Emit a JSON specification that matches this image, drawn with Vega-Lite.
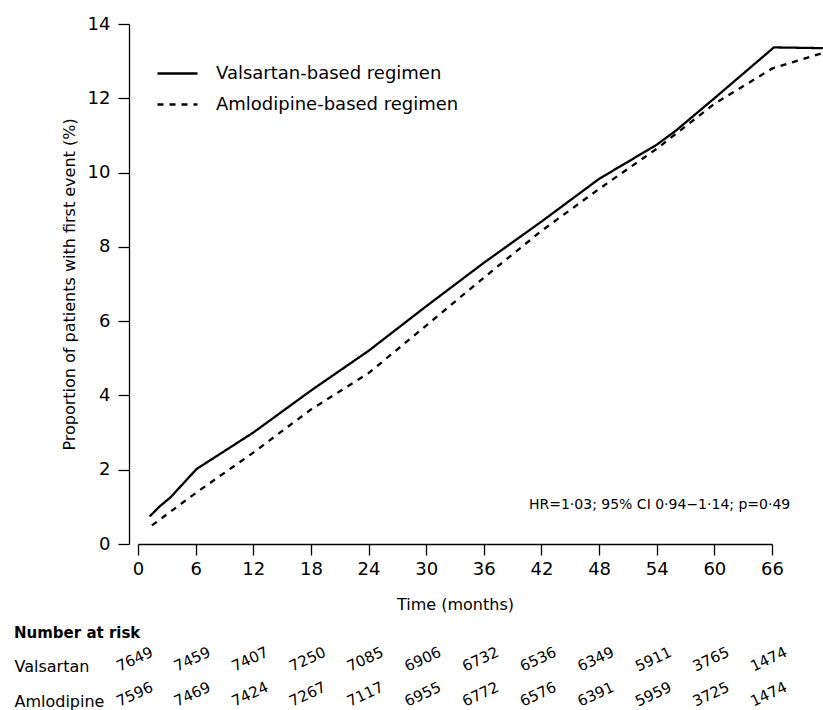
{
  "$schema": "https://vega.github.io/schema/vega-lite/v6.json",
  "padding": {"left": 14, "top": 15, "right": 0, "bottom": 0},
  "config": {
    "font": "DejaVu Sans",
    "view": {"stroke": null},
    "axis": {"domainColor": "black", "tickColor": "black", "labelColor": "black", "titleColor": "black", "grid": false, "titleFontWeight": "normal", "domainWidth": 1.3, "tickWidth": 1.3},
    "title": {"color": "black"}
  },
  "datasets": {
    "curves": [
      {"regimen": "Valsartan-based regimen", "month": 1.2, "pct": 0.74},
      {"regimen": "Valsartan-based regimen", "month": 2.25, "pct": 1.01},
      {"regimen": "Valsartan-based regimen", "month": 3.4, "pct": 1.26},
      {"regimen": "Valsartan-based regimen", "month": 6.1, "pct": 2.02},
      {"regimen": "Valsartan-based regimen", "month": 12, "pct": 3.0},
      {"regimen": "Valsartan-based regimen", "month": 18, "pct": 4.13},
      {"regimen": "Valsartan-based regimen", "month": 24, "pct": 5.2},
      {"regimen": "Valsartan-based regimen", "month": 30, "pct": 6.4},
      {"regimen": "Valsartan-based regimen", "month": 36, "pct": 7.57},
      {"regimen": "Valsartan-based regimen", "month": 42, "pct": 8.68},
      {"regimen": "Valsartan-based regimen", "month": 48, "pct": 9.83},
      {"regimen": "Valsartan-based regimen", "month": 54, "pct": 10.75},
      {"regimen": "Valsartan-based regimen", "month": 56, "pct": 11.13},
      {"regimen": "Valsartan-based regimen", "month": 60, "pct": 12.0},
      {"regimen": "Valsartan-based regimen", "month": 66.2, "pct": 13.37},
      {"regimen": "Valsartan-based regimen", "month": 71.3, "pct": 13.35},
      {"regimen": "Amlodipine-based regimen", "month": 1.45, "pct": 0.5},
      {"regimen": "Amlodipine-based regimen", "month": 6.1, "pct": 1.39},
      {"regimen": "Amlodipine-based regimen", "month": 12, "pct": 2.46},
      {"regimen": "Amlodipine-based regimen", "month": 18, "pct": 3.62},
      {"regimen": "Amlodipine-based regimen", "month": 24, "pct": 4.6},
      {"regimen": "Amlodipine-based regimen", "month": 30, "pct": 5.88},
      {"regimen": "Amlodipine-based regimen", "month": 36, "pct": 7.17},
      {"regimen": "Amlodipine-based regimen", "month": 42, "pct": 8.43},
      {"regimen": "Amlodipine-based regimen", "month": 48, "pct": 9.56},
      {"regimen": "Amlodipine-based regimen", "month": 54, "pct": 10.64},
      {"regimen": "Amlodipine-based regimen", "month": 60, "pct": 11.85},
      {"regimen": "Amlodipine-based regimen", "month": 66, "pct": 12.8},
      {"regimen": "Amlodipine-based regimen", "month": 71.3, "pct": 13.22}
    ],
    "risk": [
      {"arm": "Valsartan", "month": 0, "n": "7649"},
      {"arm": "Valsartan", "month": 6, "n": "7459"},
      {"arm": "Valsartan", "month": 12, "n": "7407"},
      {"arm": "Valsartan", "month": 18, "n": "7250"},
      {"arm": "Valsartan", "month": 24, "n": "7085"},
      {"arm": "Valsartan", "month": 30, "n": "6906"},
      {"arm": "Valsartan", "month": 36, "n": "6732"},
      {"arm": "Valsartan", "month": 42, "n": "6536"},
      {"arm": "Valsartan", "month": 48, "n": "6349"},
      {"arm": "Valsartan", "month": 54, "n": "5911"},
      {"arm": "Valsartan", "month": 60, "n": "3765"},
      {"arm": "Valsartan", "month": 66, "n": "1474"},
      {"arm": "Amlodipine", "month": 0, "n": "7596"},
      {"arm": "Amlodipine", "month": 6, "n": "7469"},
      {"arm": "Amlodipine", "month": 12, "n": "7424"},
      {"arm": "Amlodipine", "month": 18, "n": "7267"},
      {"arm": "Amlodipine", "month": 24, "n": "7117"},
      {"arm": "Amlodipine", "month": 30, "n": "6955"},
      {"arm": "Amlodipine", "month": 36, "n": "6772"},
      {"arm": "Amlodipine", "month": 42, "n": "6576"},
      {"arm": "Amlodipine", "month": 48, "n": "6391"},
      {"arm": "Amlodipine", "month": 54, "n": "5959"},
      {"arm": "Amlodipine", "month": 60, "n": "3725"},
      {"arm": "Amlodipine", "month": 66, "n": "1474"}
    ]
  },
  "spacing": 13,
  "vconcat": [
    {
      "width": 634,
      "height": 520,
      "layer": [
        {
          "data": {"name": "curves"},
          "mark": {"type": "line", "clip": false, "color": "black", "strokeWidth": 2.3},
          "encoding": {
            "x": {"field": "month", "type": "quantitative", "scale": {"domain": [0, 66], "nice": false, "zero": false},
              "axis": {"title": "Time (months)", "values": [0, 6, 12, 18, 24, 30, 36, 42, 48, 54, 60, 66], "tickSize": 11, "labelFontSize": 18, "titleFontSize": 16, "labelPadding": 5, "titlePadding": 18, "labelFlush": false}},
            "y": {"field": "pct", "type": "quantitative", "scale": {"domain": [0, 14], "nice": false},
              "axis": {"title": "Proportion of patients with first event (%)", "values": [0, 2, 4, 6, 8, 10, 12, 14], "offset": 9, "tickSize": 11, "labelFontSize": 18, "titleFontSize": 16, "labelPadding": 8, "titlePadding": 10}},
            "strokeDash": {"field": "regimen", "type": "nominal",
              "scale": {"domain": ["Valsartan-based regimen", "Amlodipine-based regimen"], "range": [[1, 0], [6, 6]]},
              "legend": {"title": null, "orient": "none", "legendX": 18, "legendY": 28, "symbolType": "stroke", "symbolSize": 1600, "symbolStrokeWidth": 2.3, "symbolStrokeColor": "black", "labelFontSize": 18, "labelLimit": 0, "labelOffset": 17, "rowPadding": -8, "labelColor": "black"}},
            "order": {"field": "month"}
          }
        },
        {
          "data": {"values": [{}]},
          "mark": {"type": "text", "align": "right", "baseline": "middle", "fontSize": 14, "color": "black"},
          "encoding": {
            "x": {"datum": 67.9},
            "y": {"datum": 1.06},
            "text": {"value": "HR=1·03; 95% CI 0·94−1·14; p=0·49"}
          }
        }
      ]
    },
    {
      "width": 634,
      "height": 70,
      "data": {"name": "risk"},
      "title": {"text": "Number at risk", "anchor": "start", "frame": "bounds", "fontSize": 15, "fontWeight": "bold", "offset": 4},
      "mark": {"type": "text", "angle": 335, "fontSize": 15, "color": "black", "dy": -8},
      "encoding": {
        "x": {"field": "month", "type": "quantitative", "scale": {"domain": [0, 66], "nice": false}, "axis": null},
        "y": {"field": "arm", "type": "nominal", "sort": ["Valsartan", "Amlodipine"], "scale": {"type": "point", "padding": 0.5},
          "axis": {"title": null, "domain": false, "ticks": false, "labelAlign": "left", "labelPadding": 124, "labelFontSize": 16, "labelBaseline": "middle", "labelColor": "black"}},
        "text": {"field": "n", "type": "nominal"}
      }
    }
  ]
}
